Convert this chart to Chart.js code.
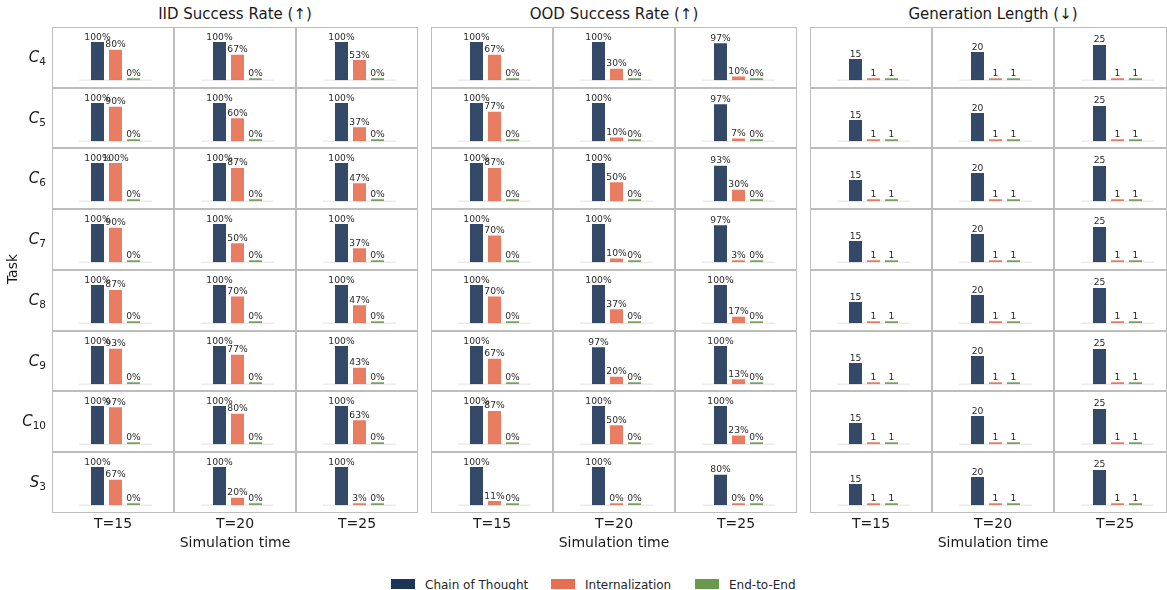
<!DOCTYPE html>
<html>
<head>
<meta charset="utf-8">
<script src="https://cdn.jsdelivr.net/npm/chart.js@4.4.1/dist/chart.umd.min.js"></script>
<style>
  html, body { margin: 0; padding: 0; background: #fff; }
  #page { position: relative; width: 1167px; height: 590px; overflow: hidden;
          font-family: 'DejaVu Sans', sans-serif; color: #1a1a1a; }
  .cell { position: absolute; box-sizing: border-box; border: 1.5px solid #bdbdbd; pointer-events: none; }
  .plot { position: absolute; }
  .txt { position: absolute; white-space: nowrap; }
  .swatch { position: absolute; width: 24px; height: 10px; }
</style>
</head>
<body>
<div id="page"></div>
<script>
// ---- data -------------------------------------------------------------
const taskNames = ['C4', 'C5', 'C6', 'C7', 'C8', 'C9', 'C10', 'S3'];
const taskLetters = ['C', 'C', 'C', 'C', 'C', 'C', 'C', 'S'];
const taskSubs = ['4', '5', '6', '7', '8', '9', '10', '3'];
const timeLabels = ['T=15', 'T=20', 'T=25'];
const methods = ['Chain of Thought', 'Internalization', 'End-to-End'];

// rows: tasks, columns: T=15, T=20, T=25
const iidCoT = [
  [100, 100, 100], [100, 100, 100], [100, 100, 100], [100, 100, 100],
  [100, 100, 100], [100, 100, 100], [100, 100, 100], [100, 100, 100]
];
const iidInternalization = [
  [80, 67, 53], [90, 60, 37], [100, 87, 47], [90, 50, 37],
  [87, 70, 47], [93, 77, 43], [97, 80, 63], [67, 20, 3]
];
const iidEndToEnd = [
  [0, 0, 0], [0, 0, 0], [0, 0, 0], [0, 0, 0],
  [0, 0, 0], [0, 0, 0], [0, 0, 0], [0, 0, 0]
];

const oodCoT = [
  [100, 100, 97], [100, 100, 97], [100, 100, 93], [100, 100, 97],
  [100, 100, 100], [100, 97, 100], [100, 100, 100], [100, 100, 80]
];
const oodInternalization = [
  [67, 30, 10], [77, 10, 7], [87, 50, 30], [70, 10, 3],
  [70, 37, 17], [67, 20, 13], [87, 50, 23], [11, 0, 0]
];
const oodEndToEnd = [
  [0, 0, 0], [0, 0, 0], [0, 0, 0], [0, 0, 0],
  [0, 0, 0], [0, 0, 0], [0, 0, 0], [0, 0, 0]
];

const genCoT = [
  [15, 20, 25], [15, 20, 25], [15, 20, 25], [15, 20, 25],
  [15, 20, 25], [15, 20, 25], [15, 20, 25], [15, 20, 25]
];
const genInternalization = [
  [1, 1, 1], [1, 1, 1], [1, 1, 1], [1, 1, 1],
  [1, 1, 1], [1, 1, 1], [1, 1, 1], [1, 1, 1]
];
const genEndToEnd = [
  [1, 1, 1], [1, 1, 1], [1, 1, 1], [1, 1, 1],
  [1, 1, 1], [1, 1, 1], [1, 1, 1], [1, 1, 1]
];

// ---- style ------------------------------------------------------------
const solidColors = ['#1d3557', '#e76f51', '#6a994e'];
const barColors = ['rgba(29,53,87,0.9)', 'rgba(231,111,81,0.9)', 'rgba(106,153,78,0.9)'];

const panels = [
  { title: 'IID Success Rate (\u2191)', left: 52, yMax: 134, suffix: '%',
    series: [iidCoT, iidInternalization, iidEndToEnd] },
  { title: 'OOD Success Rate (\u2191)', left: 431, yMax: 134, suffix: '%',
    series: [oodCoT, oodInternalization, oodEndToEnd] },
  { title: 'Generation Length (\u2193)', left: 810, yMax: 36.3, suffix: '',
    series: [genCoT, genInternalization, genEndToEnd] }
];

const PAGE_W = 1167;
const TOP = 27, ROW_STEP = 60.7, COL_STEP = 122, CELL_W = 122;
const page = document.getElementById('page');

function text(content, x, baseline, size, align, extra) {
  const d = document.createElement('div');
  d.className = 'txt';
  d.innerHTML = content;
  d.style.fontSize = size + 'px';
  d.style.lineHeight = size + 'px';
  d.style.top = (baseline - 0.846 * size) + 'px';
  if (align === 'center') { d.style.left = x + 'px'; d.style.transform = 'translateX(-50%)'; }
  else if (align === 'right') { d.style.right = (PAGE_W - x) + 'px'; }
  else { d.style.left = x + 'px'; }
  if (extra) Object.assign(d.style, extra);
  page.appendChild(d);
  return d;
}

// light baseline under each group of bars
const baselinePlugin = {
  id: 'baseline',
  beforeDatasetsDraw(chart) {
    const { ctx, chartArea } = chart;
    const y = chart.scales.y.getPixelForValue(0);
    ctx.save();
    ctx.strokeStyle = '#ececec';
    ctx.lineWidth = 1.5;
    ctx.beginPath();
    ctx.moveTo(chartArea.left, y);
    ctx.lineTo(chartArea.right, y);
    ctx.stroke();
    ctx.restore();
  }
};

// value label above every bar
const valueLabelPlugin = {
  id: 'valueLabels',
  afterDatasetsDraw(chart, args, opts) {
    const { ctx } = chart;
    const suffix = opts.suffix || '';
    ctx.save();
    ctx.font = '9.2px "DejaVu Sans"';
    ctx.fillStyle = '#2a2a2a';
    ctx.textAlign = 'center';
    ctx.textBaseline = 'alphabetic';
    chart.data.datasets.forEach((ds, i) => {
      chart.getDatasetMeta(i).data.forEach((bar, j) => {
        const top = Math.min(bar.y, bar.base);
        ctx.fillText(String(ds.data[j]) + suffix, bar.x, top - 2.5);
      });
    });
    ctx.restore();
  }
};

const rowTops = [];
for (let r = 0; r <= taskNames.length; r++) rowTops.push(Math.round(TOP + r * ROW_STEP));

panels.forEach(panel => {
  const cx = panel.left + (3 * COL_STEP) / 2;
  text(panel.title, cx, 20, 15, 'center');

  taskNames.forEach((task, r) => {
    const top = rowTops[r];
    const h = rowTops[r + 1] - top;
    timeLabels.forEach((t, c) => {
      const left = panel.left + c * COL_STEP;

      const cv = document.createElement('canvas');
      cv.className = 'plot';
      cv.width = COL_STEP; cv.height = 61;
      cv.style.left = left + 'px'; cv.style.top = top + 'px';
      cv.style.width = COL_STEP + 'px'; cv.style.height = '61px';
      page.appendChild(cv);

      // frame of the facet; the last one is trimmed at the page edge
      const frame = document.createElement('div');
      frame.className = 'cell';
      frame.style.left = left + 'px'; frame.style.top = top + 'px';
      frame.style.width = Math.min(CELL_W, PAGE_W - left) + 'px';
      frame.style.height = h + 'px';
      page.appendChild(frame);

      new Chart(cv, {
        type: 'bar',
        data: {
          labels: [t],
          datasets: methods.map((m, k) => ({
            label: m,
            data: [panel.series[k][r][c]],
            backgroundColor: barColors[k],
            borderWidth: 0,
            minBarLength: 2,
            categoryPercentage: 0.74,
            barPercentage: 0.722
          }))
        },
        options: {
          responsive: false,
          animation: false,
          events: [],
          layout: { padding: { left: 27, right: 22, top: 2, bottom: 7.7 } },
          plugins: {
            legend: { display: false },
            tooltip: { enabled: false },
            valueLabels: { suffix: panel.suffix }
          },
          scales: {
            x: { display: false },
            y: { display: false, min: 0, max: panel.yMax }
          }
        },
        plugins: [baselinePlugin, valueLabelPlugin]
      });
    });
  });

  timeLabels.forEach((t, c) => {
    text(t, panel.left + c * COL_STEP + CELL_W / 2, 528, 14, 'center');
  });
  text('Simulation time', cx, 547, 14, 'center');
});

// task labels on the left
taskNames.forEach((task, r) => {
  const mid = (rowTops[r] + rowTops[r + 1]) / 2;
  text('<span style="font-style:italic">' + taskLetters[r] + '</span>' +
       '<span style="font-size:10.5px;position:relative;top:3px;">' + taskSubs[r] + '</span>',
       46, mid + 5.5, 15, 'right');
});

// y axis title
const yTitle = text('Task', 12, 0, 14, 'left');
yTitle.style.top = '269px';
yTitle.style.transform = 'translate(-50%, -50%) rotate(-90deg)';

// legend
const legendItems = [
  { swatch: 391, label: 425 },
  { swatch: 551, label: 585 },
  { swatch: 695, label: 729 }
];
methods.forEach((m, k) => {
  const sw = document.createElement('div');
  sw.className = 'swatch';
  sw.style.left = legendItems[k].swatch + 'px';
  sw.style.top = '579px';
  sw.style.background = solidColors[k];
  page.appendChild(sw);
  text(m, legendItems[k].label, 589, 12, 'left', { color: '#262626' });
});
</script>
</body>
</html>
